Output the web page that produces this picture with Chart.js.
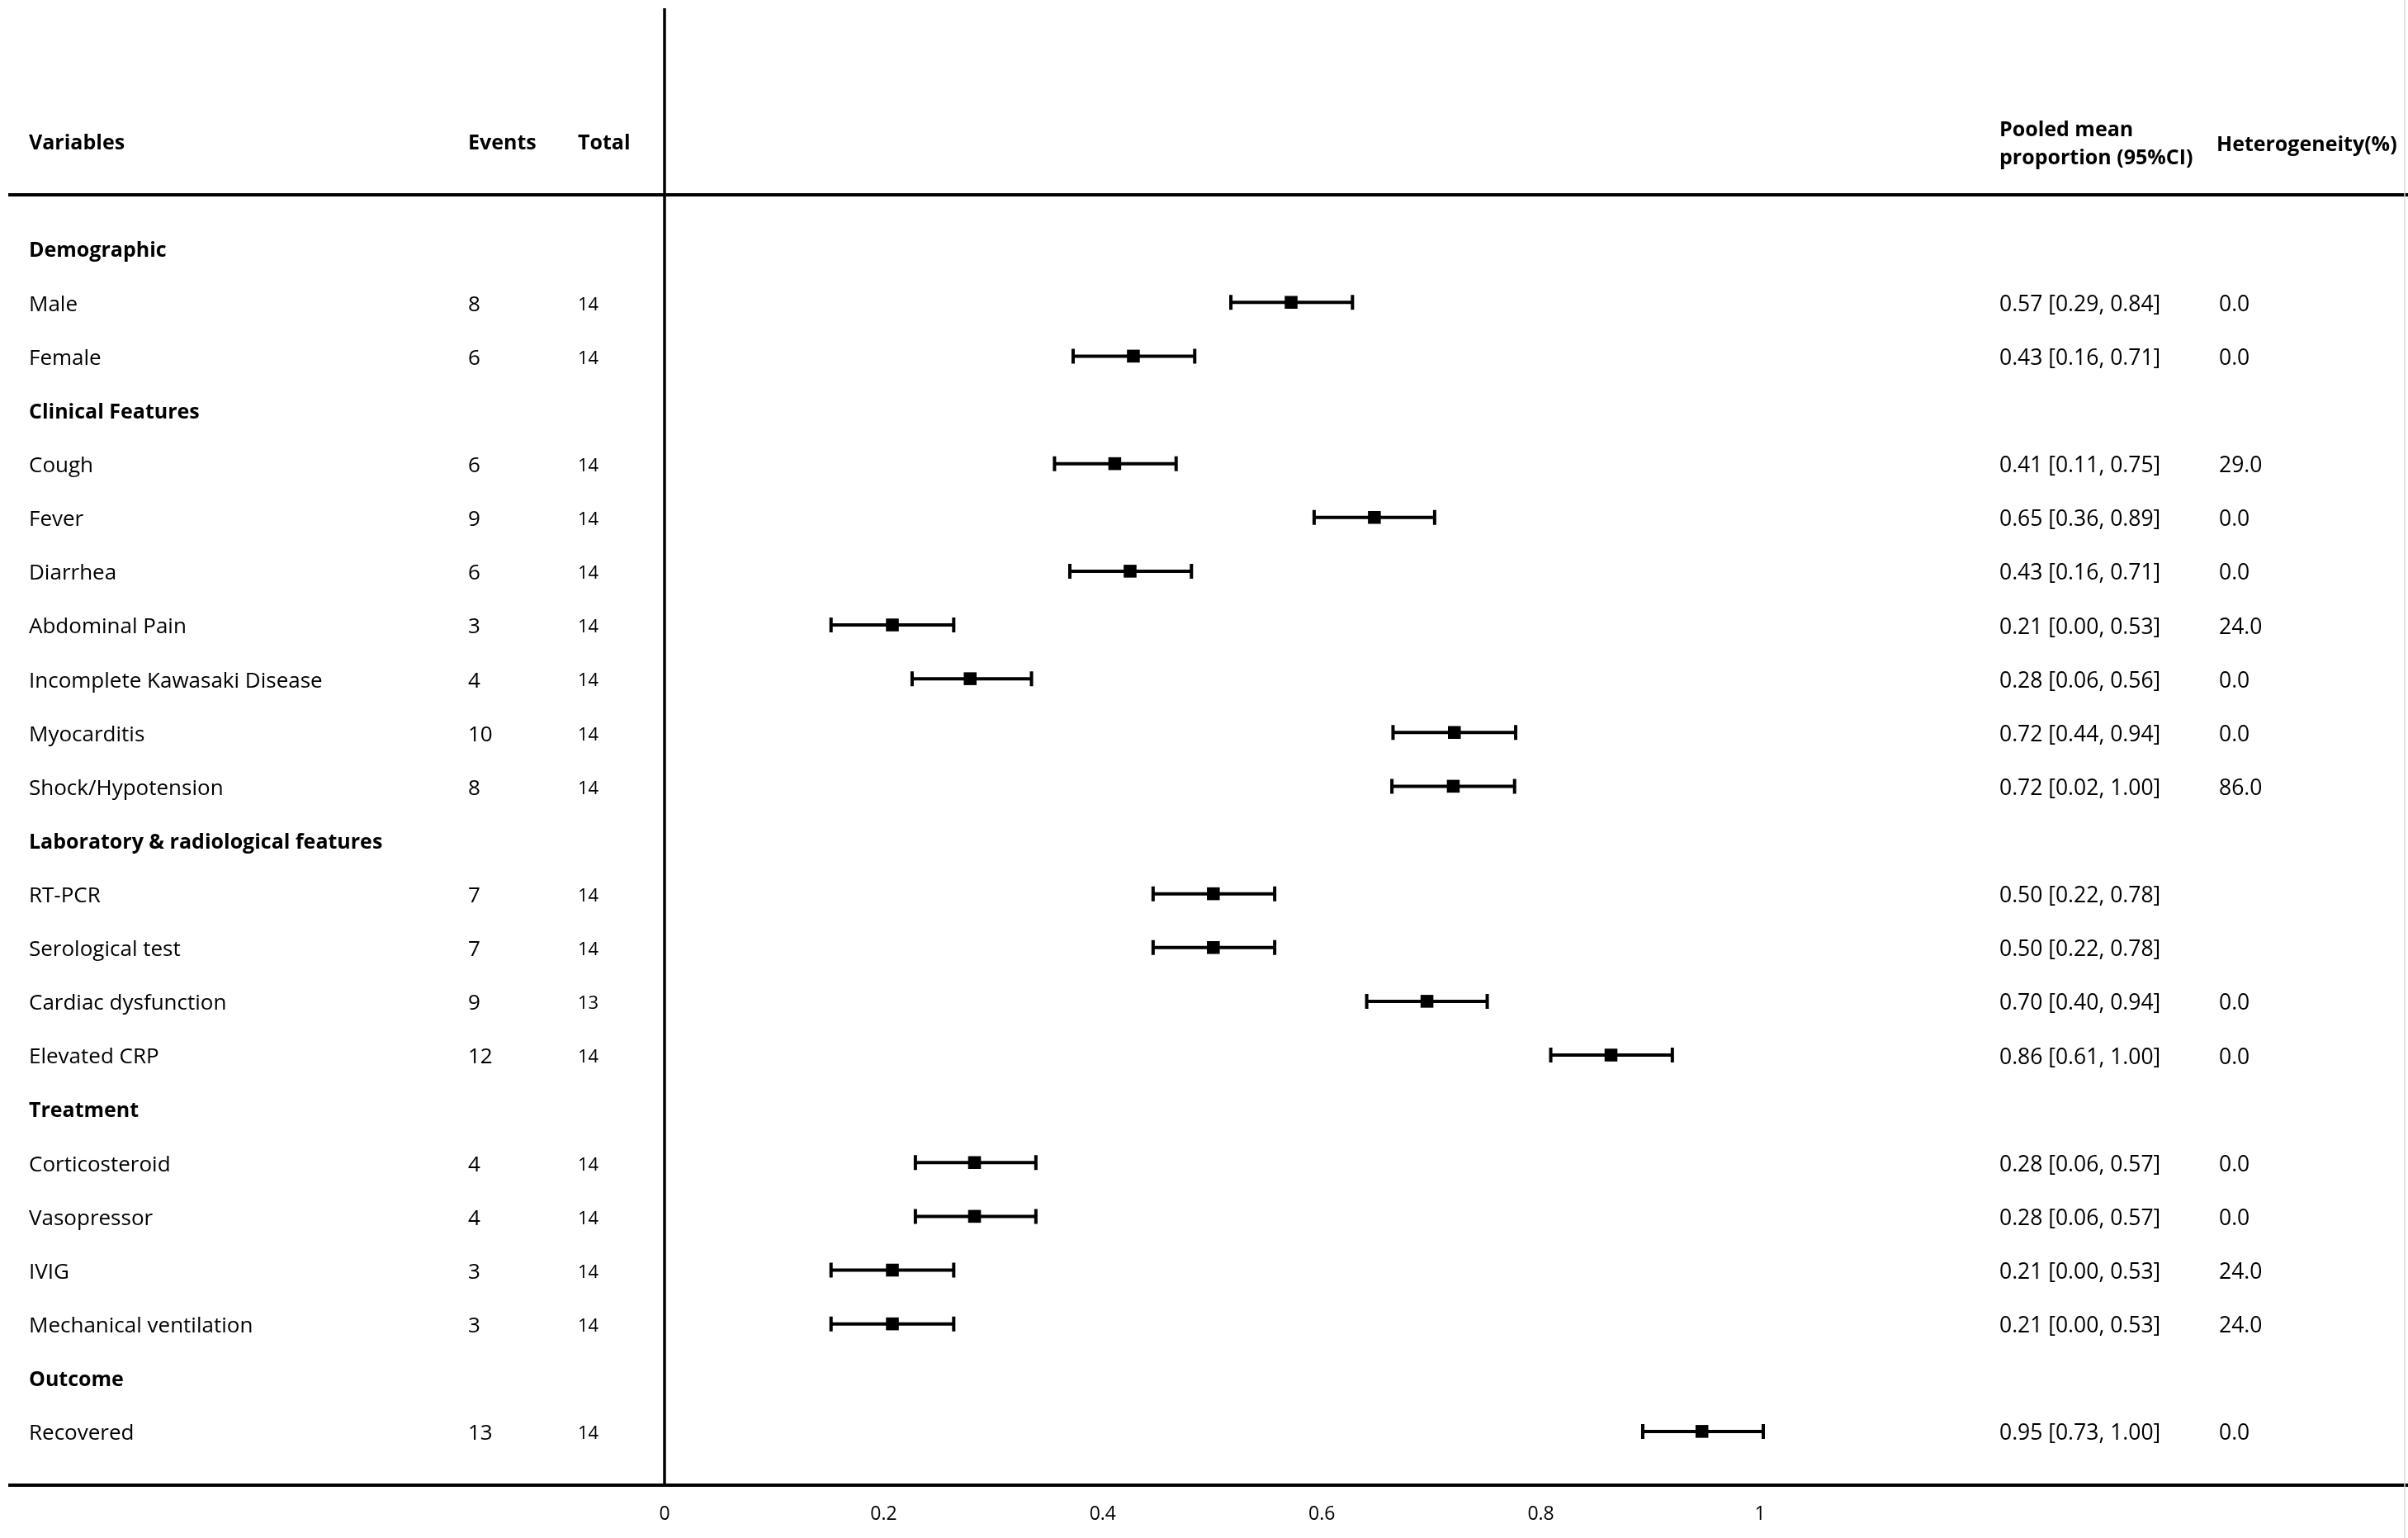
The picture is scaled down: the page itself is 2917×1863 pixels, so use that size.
<!DOCTYPE html>
<html><head><meta charset="utf-8">
<script src="https://cdn.jsdelivr.net/npm/chart.js@4.4.0/dist/chart.umd.min.js"></script>
<style>html,body{margin:0;padding:0;background:#fff;} canvas{display:block;}</style>
</head><body>
<canvas id="c" width="2917" height="1863"></canvas>
<script>
const rowLabels = ["Demographic","Male","Female","Clinical Features","Cough","Fever","Diarrhea","Abdominal Pain","Incomplete Kawasaki Disease","Myocarditis","Shock/Hypotension","Laboratory & radiological features","RT-PCR","Serological test","Cardiac dysfunction","Elevated CRP","Treatment","Corticosteroid","Vasopressor","IVIG","Mechanical ventilation","Outcome","Recovered"];
const isGroup = [true,false,false,true,false,false,false,false,false,false,false,true,false,false,false,false,true,false,false,false,false,true,false];
const events = [null,8,6,null,6,9,6,3,4,10,8,null,7,7,9,12,null,4,4,3,3,null,13];
const totals = [null,14,14,null,14,14,14,14,14,14,14,null,14,14,13,14,null,14,14,14,14,null,14];
const pointEstimates = [null,0.572,0.428,null,0.411,0.648,0.425,0.208,0.279,0.721,0.720,null,0.501,0.501,0.696,0.864,null,0.283,0.283,0.208,0.208,null,0.947];
const barLow = [null,0.517,0.373,null,0.356,0.593,0.370,0.152,0.226,0.665,0.664,null,0.446,0.446,0.641,0.809,null,0.229,0.229,0.152,0.152,null,0.893];
const barHigh = [null,0.628,0.484,null,0.467,0.703,0.481,0.264,0.335,0.777,0.776,null,0.557,0.557,0.751,0.920,null,0.339,0.339,0.264,0.264,null,1.003];
const pooledText = [null,"0.57 [0.29, 0.84]","0.43 [0.16, 0.71]",null,"0.41 [0.11, 0.75]","0.65 [0.36, 0.89]","0.43 [0.16, 0.71]","0.21 [0.00, 0.53]","0.28 [0.06, 0.56]","0.72 [0.44, 0.94]","0.72 [0.02, 1.00]",null,"0.50 [0.22, 0.78]","0.50 [0.22, 0.78]","0.70 [0.40, 0.94]","0.86 [0.61, 1.00]",null,"0.28 [0.06, 0.57]","0.28 [0.06, 0.57]","0.21 [0.00, 0.53]","0.21 [0.00, 0.53]",null,"0.95 [0.73, 1.00]"];
const heterogeneity = [null,"0.0","0.0",null,"29.0","0.0","0.0","24.0","0.0","0.0","86.0",null,"","","0.0","0.0",null,"0.0","0.0","24.0","24.0",null,"0.0"];
const xTicks = [0,0.2,0.4,0.6,0.8,1];

const FONT = "'Open Sans', 'Liberation Sans', sans-serif";
const TEXT_DY = 3;

const points = [];
pointEstimates.forEach((v,i)=>{ if (v !== null) points.push({x:v, y:i}); });

const errorBars = {
  id:'errorBars',
  beforeDatasetsDraw(chart){
    const ctx = chart.ctx, xs = chart.scales.x, ys = chart.scales.y;
    ctx.save();
    ctx.strokeStyle = '#000';
    ctx.lineWidth = 4;
    ctx.lineCap = 'butt';
    for (let i=0;i<rowLabels.length;i++){
      if (barLow[i] === null) continue;
      const y = ys.getPixelForValue(i);
      const x1 = xs.getPixelForValue(barLow[i]);
      const x2 = xs.getPixelForValue(barHigh[i]);
      ctx.beginPath();
      ctx.moveTo(x1,y); ctx.lineTo(x2,y);
      ctx.moveTo(x1,y-9); ctx.lineTo(x1,y+9);
      ctx.moveTo(x2,y-9); ctx.lineTo(x2,y+9);
      ctx.stroke();
    }
    ctx.restore();
  }
};

const table = {
  id:'table',
  afterDraw(chart){
    const ctx = chart.ctx, xs = chart.scales.x, ys = chart.scales.y, ca = chart.chartArea;
    const W = chart.width;
    ctx.save();
    ctx.strokeStyle = '#000';
    ctx.lineWidth = 4;
    ctx.beginPath();
    ctx.moveTo(10, ca.top); ctx.lineTo(W, ca.top);
    ctx.moveTo(10, ca.bottom); ctx.lineTo(W, ca.bottom);
    ctx.stroke();
    ctx.lineWidth = 3.5;
    const x0 = xs.getPixelForValue(0);
    ctx.beginPath();
    ctx.moveTo(x0, 10); ctx.lineTo(x0, ca.bottom);
    ctx.stroke();
    ctx.strokeStyle = '#d8d8d8';
    ctx.lineWidth = 1.5;
    ctx.beginPath();
    ctx.moveTo(2913, 0); ctx.lineTo(2913, 1863);
    ctx.stroke();

    ctx.fillStyle = '#000';
    ctx.textBaseline = 'middle';
    ctx.textAlign = 'left';
    ctx.font = "bold 25px " + FONT;
    const hy = ys.getPixelForValue(-2) + TEXT_DY;
    ctx.fillText("Variables", 35, hy);
    ctx.fillText("Events", 567, hy);
    ctx.fillText("Total", 700, hy);
    ctx.fillText("Pooled mean", 2422, ys.getPixelForValue(-2.25) + TEXT_DY);
    ctx.fillText("proportion (95%CI)", 2422, ys.getPixelForValue(-1.72) + TEXT_DY);
    ctx.fillText("Heterogeneity(%)", 2685, ys.getPixelForValue(-1.97) + TEXT_DY);

    for (let i=0;i<rowLabels.length;i++){
      const y = ys.getPixelForValue(i) + TEXT_DY;
      if (isGroup[i]) {
        ctx.font = "bold 25px " + FONT;
        ctx.fillText(rowLabels[i], 35, y);
        continue;
      }
      ctx.font = "26px " + FONT;
      ctx.fillText(rowLabels[i], 35, y);
      ctx.fillText(String(events[i]), 567, y);
      ctx.font = "26.5px " + FONT;
      ctx.fillText(pooledText[i], 2422, y);
      if (heterogeneity[i]) ctx.fillText(heterogeneity[i], 2688, y);
      ctx.font = "22px " + FONT;
      ctx.fillText(String(totals[i]), 700, y);
    }
    ctx.restore();
  }
};

new Chart(document.getElementById('c'), {
  type:'scatter',
  data:{ datasets:[{
    data: points,
    pointStyle:'rect',
    pointRadius:11,
    pointHoverRadius:11,
    backgroundColor:'#000',
    borderColor:'#000',
    borderWidth:0,
    clip:false
  }]},
  options:{
    responsive:false,
    animation:false,
    devicePixelRatio:1,
    events:[],
    layout:{ padding:{ left:805, right:785, top:236, bottom:0 } },
    plugins:{ legend:{display:false}, tooltip:{enabled:false} },
    scales:{
      x:{
        type:'linear', min:0, max:1,
        afterBuildTicks: s => { s.ticks = xTicks.map(v=>({value:v})); },
        ticks:{ font:{family:FONT, size:23}, color:'#000', padding:22, maxRotation:0, autoSkip:false,
                callback: v => String(v) },
        grid:{ display:false, drawTicks:false },
        border:{ display:false },
        afterFit: s => { s.height = 64; }
      },
      y:{
        type:'linear', min:-1, max:23, reverse:true, display:false
      }
    }
  },
  plugins:[errorBars, table]
});
</script>
</body></html>
